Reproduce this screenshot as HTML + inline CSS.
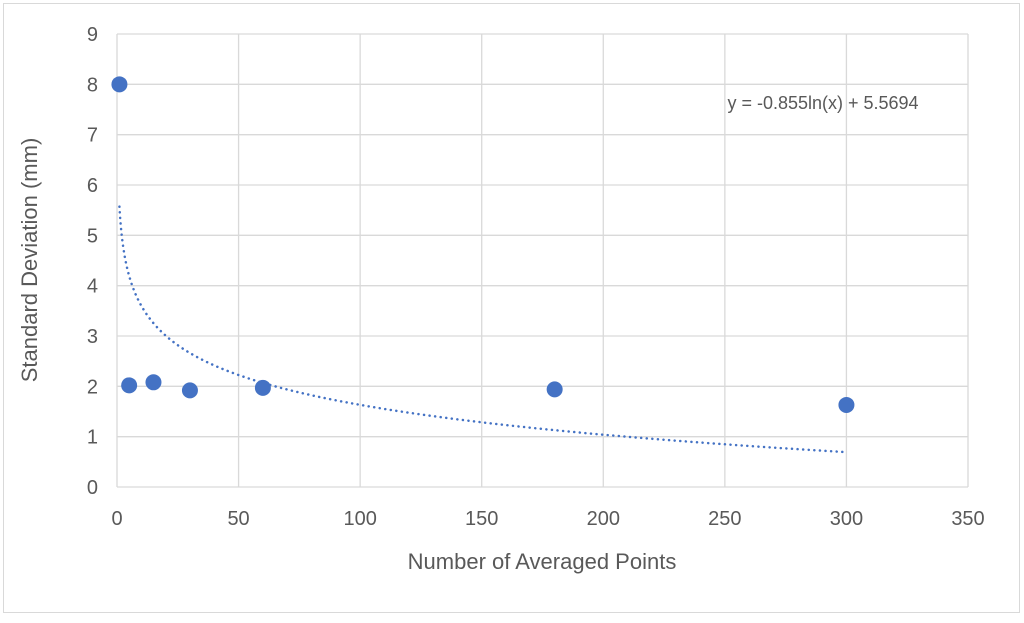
<!DOCTYPE html>
<html><head><meta charset="utf-8"><style>
body{margin:0;background:#fff;width:1024px;height:618px;overflow:hidden}
svg text{font-family:"Liberation Sans",sans-serif;fill:#595959}
</style></head><body>
<svg id="c" width="1024" height="618" xmlns="http://www.w3.org/2000/svg">
<rect x="3.5" y="3.5" width="1016" height="609" fill="#fff" stroke="#d9d9d9"/>
<g id="grid"></g>
<g id="ticks"></g>
<path id="trend" fill="none" stroke="#4472c4" stroke-width="2.5" stroke-dasharray="0.1 5.5" stroke-linecap="round"/>
<g id="pts"></g>
<text x="823" y="109" font-size="18" text-anchor="middle">y = -0.855ln(x) + 5.5694</text>
<text x="542" y="569" font-size="22" text-anchor="middle">Number of Averaged Points</text>
<text transform="translate(37,260) rotate(-90)" font-size="22" text-anchor="middle">Standard Deviation (mm)</text>
</svg>
<script>
const xs=[1,5,15,30,60,180,300];
const ys=[8,2.02,2.08,1.92,1.97,1.94,1.63];
const xTicks=[0,50,100,150,200,250,300,350];
const yTicks=[0,1,2,3,4,5,6,7,8,9];
const trendA=-0.855, trendB=5.5694, trendRange=[1,300];
const L=117,R=968,T=34,B=487;
const sx=v=>L+(v-0)/(350-0)*(R-L);
const sy=v=>B-(v-0)/(9-0)*(B-T);
const NS="http://www.w3.org/2000/svg";
function mk(tag,attrs,parent){const e=document.createElementNS(NS,tag);for(const k in attrs)e.setAttribute(k,attrs[k]);parent.appendChild(e);return e;}
const grid=document.getElementById('grid'),ticks=document.getElementById('ticks'),pts=document.getElementById('pts');
yTicks.forEach(v=>{
 const l=mk('line',{x1:L,x2:R,y1:sy(v),y2:sy(v),stroke:'#d9d9d9','stroke-width':1.3},grid);
 
 
 const t=mk('text',{x:L-19,y:sy(v)+7,'font-size':20,'text-anchor':'end'},ticks);
 t.textContent=v;
 
 
});
xTicks.forEach(v=>{
 const l=mk('line',{x1:sx(v),x2:sx(v),y1:T,y2:B,stroke:'#d9d9d9','stroke-width':1.3},grid);
 
 
 const t=mk('text',{x:sx(v),y:B+38,'font-size':20,'text-anchor':'middle'},ticks);
 t.textContent=v;
 
 
});
let d='';
for(let i=0;i<=300;i++){const x=trendRange[0]*Math.pow(trendRange[1]/trendRange[0],i/300);const y=trendA*Math.log(x)+trendB;d+=(i?'L':'M')+sx(x).toFixed(2)+' '+sy(y).toFixed(2);}
document.getElementById('trend').setAttribute('d',d);
xs.forEach((x,i)=>{
 const c=mk('circle',{cx:sx(x),cy:sy(ys[i]),r:8,fill:'#4472c4'},pts);
 
 
});
</script>
</body></html>
